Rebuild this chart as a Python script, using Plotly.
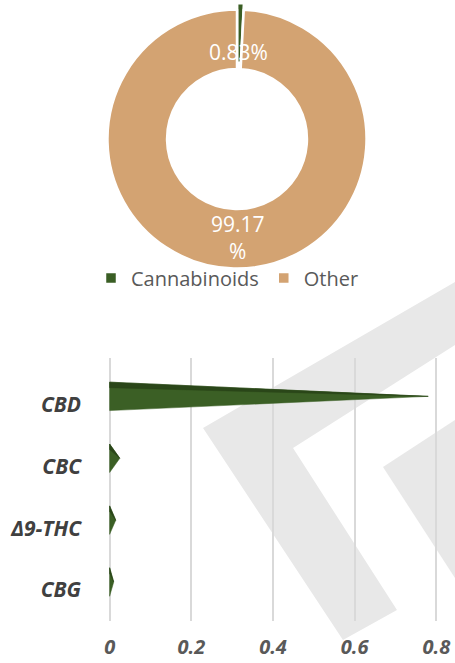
import plotly.graph_objects as go

# ---- data ----
pie_labels = ["Cannabinoids", "Other"]
pie_values = [0.83, 99.17]
pie_colors = ["#3a5e24", "#d3a372"]

bar_categories = ["CBD", "CBC", "Δ9-THC", "CBG"]
bar_values = [0.78, 0.025, 0.015, 0.01]
x_ticks = [0, 0.2, 0.4, 0.6, 0.8]
x_ticklabels = ["0", "0.2", "0.4", "0.6", "0.8"]

W, H = 455, 663


def px(x, y):
    return x / W, 1 - y / H


fig = go.Figure()

# ---- donut ----
r_dom = 136
cx, cy = 237, 139
fig.add_trace(go.Pie(
    labels=pie_labels, values=pie_values, sort=False, direction="clockwise",
    rotation=0, hole=0.54, pull=[0.05, 0],
    marker=dict(colors=pie_colors, line=dict(color="white", width=2.5)),
    textinfo="none", hoverinfo="label+percent",
    domain=dict(x=[(cx - r_dom) / W, (cx + r_dom) / W],
                y=[max(0, 1 - (cy + r_dom) / H), min(1, 1 - (cy - r_dom) / H)]),
    showlegend=True,
))

# ---- pyramid bars ----
main_col = "#3b5f25"
dark_col = "#2a4619"
hh = 0.23
off = -0.13
for i, (cat, v) in enumerate(zip(bar_categories, bar_values)):
    yc = i + off
    fig.add_trace(go.Scatter(
        x=[0, v, 0, 0], y=[yc - hh, yc, yc + hh, yc - hh],
        fill="toself", fillcolor=main_col, mode="lines",
        line=dict(width=0.5, color=main_col), showlegend=False,
        hoverinfo="skip", xaxis="x", yaxis="y"))
    fig.add_trace(go.Scatter(
        x=[0, v, 0, 0], y=[yc - hh, yc, yc - hh + 0.09, yc - hh],
        fill="toself", fillcolor=dark_col, mode="lines",
        line=dict(width=0.5, color=dark_col), showlegend=False,
        name=cat, hovertemplate=f"{cat}: {v}<extra></extra>",
        xaxis="x", yaxis="y"))

# ---- watermark shapes ----
def path(points):
    pts = [px(x, y) for x, y in points]
    return "M " + " L ".join(f"{a:.4f},{b:.4f}" for a, b in pts) + " Z"

shapes = [
    dict(type="path", xref="paper", yref="paper", layer="below",
         path=path([(203, 428), (455, 282), (455, 345), (293, 448),
                    (397, 610), (343, 640)]),
         fillcolor="#e8e8e8", line=dict(width=0)),
    dict(type="path", xref="paper", yref="paper", layer="below",
         path=path([(383, 467), (455, 420), (455, 578)]),
         fillcolor="#e8e8e8", line=dict(width=0)),
]

# ---- pie labels ----
annotations = [
    dict(text=f"{pie_values[0]:.2f}%", x=px(238, 36)[0], y=px(238, 36)[1],
         xref="paper", yref="paper", showarrow=False,
         font=dict(family="Open Sans", size=21, color="white")),
    dict(text=f"{pie_values[1]:.2f}<br>%", x=px(238, 237)[0], y=px(238, 237)[1],
         xref="paper", yref="paper", showarrow=False,
         font=dict(family="Open Sans", size=21, color="white")),
]

fig.update_layout(
    width=W, height=H, autosize=False, margin=dict(l=0, r=0, t=0, b=0, pad=0),
    paper_bgcolor="white", plot_bgcolor="rgba(0,0,0,0)",
    font=dict(family="Open Sans", color="#595959"),
    legend=dict(orientation="h", x=0.5, xanchor="center", y=px(0, 278)[1],
                yanchor="middle", font=dict(size=20, color="#595959"),
                itemwidth=30, bgcolor="rgba(0,0,0,0)"),
    xaxis=dict(domain=[108 / W, 438 / W], range=[-0.004, 0.804],
               tickvals=x_ticks, ticktext=x_ticklabels, automargin=False,
               showgrid=True, gridcolor="#d9d9d9", gridwidth=1.5,
               zeroline=False, showline=False, ticks="",
               ticklabelstandoff=12,
               tickfont=dict(family="Open Sans", size=20, color="#595959",
                             weight="bold", style="italic")),
    yaxis=dict(domain=[1 - 621 / H, 1 - 358 / H], range=[3.5, -0.75],
               tickvals=list(range(len(bar_categories))),
               ticktext=bar_categories, automargin=False,
               showgrid=False, zeroline=False, showline=False, ticks="",
               ticklabelstandoff=26,
               tickfont=dict(family="Open Sans", size=21, color="#404040",
                             weight="bold", style="italic")),
    shapes=shapes, annotations=annotations,
)

fig.write_html("out.html")
